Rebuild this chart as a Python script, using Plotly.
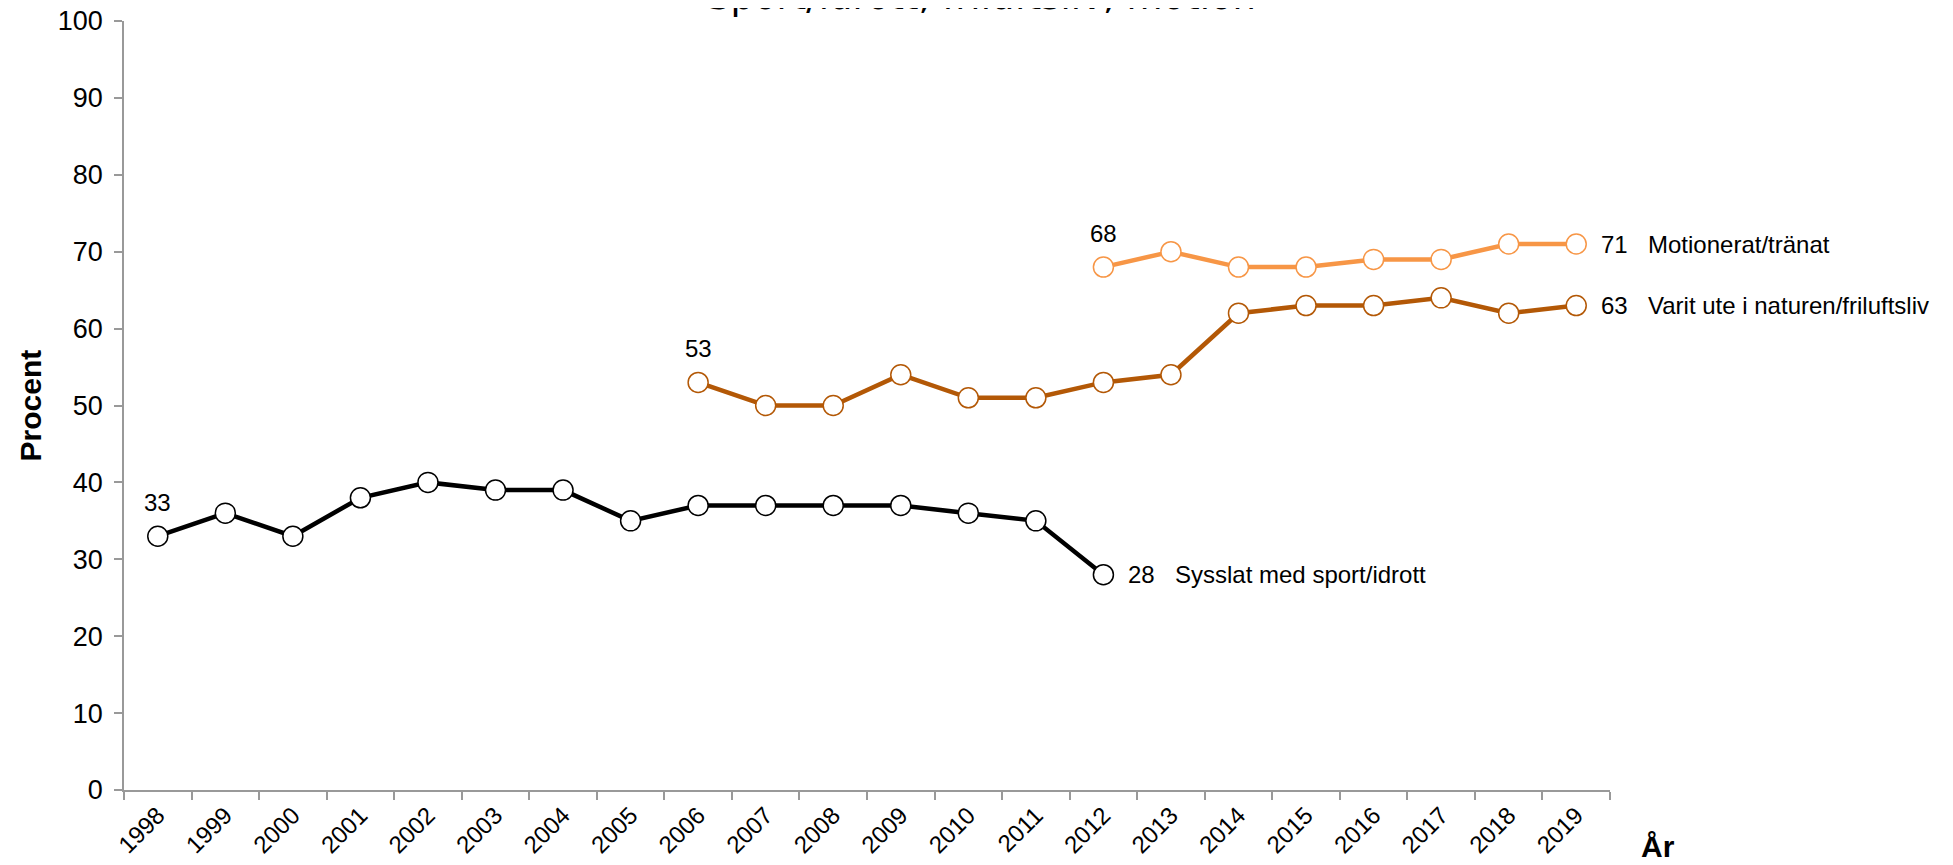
import plotly.graph_objects as go

years = [str(y) for y in range(1998, 2020)]

sport_years = [str(y) for y in range(1998, 2013)]
sport_values = [33, 36, 33, 38, 40, 39, 39, 35, 37, 37, 37, 37, 36, 35, 28]

natur_years = [str(y) for y in range(2006, 2020)]
natur_values = [53, 50, 50, 54, 51, 51, 53, 54, 62, 63, 63, 64, 62, 63]

motion_years = [str(y) for y in range(2012, 2020)]
motion_values = [68, 70, 68, 68, 69, 69, 71, 71]

series = [
    ("Sysslat med sport/idrott", sport_years, sport_values, "#000000"),
    ("Varit ute i naturen/friluftsliv", natur_years, natur_values, "#B35806"),
    ("Motionerat/tränat", motion_years, motion_values, "#F79646"),
]

FONT = "Liberation Sans, Arial, sans-serif"

fig = go.Figure()
annotations = []
for name, xs, ys, color in series:
    fig.add_trace(go.Scatter(
        x=xs, y=ys, mode="lines+markers", name=name,
        line=dict(color=color, width=4.5),
        marker=dict(size=20, color="white", line=dict(color=color, width=1.5)),
        showlegend=False, cliponaxis=False,
    ))
    i0 = years.index(xs[0])
    i1 = years.index(xs[-1])
    # first value label above the first point
    annotations.append(dict(
        x=i0, y=ys[0], xref="x", yref="y", text=str(ys[0]),
        showarrow=False, yshift=34, xanchor="center", yanchor="middle",
        font=dict(family=FONT, size=24, color="#000000"),
    ))
    # last value and series name to the right
    annotations.append(dict(
        x=i1, y=ys[-1], xref="x", yref="y", text=str(ys[-1]),
        showarrow=False, xshift=23, xanchor="left", yanchor="middle",
        font=dict(family=FONT, size=24, color="#000000"),
    ))
    annotations.append(dict(
        x=i1, y=ys[-1], xref="x", yref="y", text=name,
        showarrow=False, xshift=70, xanchor="left", yanchor="middle",
        font=dict(family=FONT, size=24, color="#000000"),
    ))

# chart title (sits mostly above the top edge, as in the original)
annotations.append(dict(
    x=0.577, y=1, xref="paper", yref="paper", text="Sport/idrott, friluftsliv, motion",
    showarrow=False, xanchor="center", yanchor="bottom", yshift=1,
    font=dict(family="DejaVu Sans, sans-serif", size=37, color="#000000"),
))

# x axis title
annotations.append(dict(
    x=1.032, y=-0.073, xref="paper", yref="paper", text="<b>År</b>",
    showarrow=False, xanchor="center", yanchor="middle",
    font=dict(family=FONT, size=30, color="#000000"),
))

# y axis title
annotations.append(dict(
    x=-0.0626, y=0.5, xref="paper", yref="paper", text="<b>Procent</b>",
    showarrow=False, xanchor="center", yanchor="middle", textangle=-90,
    font=dict(family=FONT, size=30, color="#000000"),
))

fig.update_layout(
    width=1937, height=849,
    margin=dict(l=116, r=335, t=13, b=67, autoexpand=False),
    paper_bgcolor="white", plot_bgcolor="white",
    annotations=annotations,
    xaxis=dict(
        type="category", categoryorder="array", categoryarray=years,
        range=[-0.5, len(years) - 0.5],
        tickson="boundaries", ticks="outside", ticklen=8, tickwidth=1.5, tickcolor="#999999",
        showline=True, linecolor="#999999", linewidth=1.5,
        showgrid=False, zeroline=False, tickangle=-45,
        tickfont=dict(family=FONT, size=24, color="#000000"),
        ticklabeloverflow="allow",
        automargin=False,
    ),
    yaxis=dict(
        range=[0, 100], tickmode="linear", tick0=0, dtick=10,
        ticks="outside", ticklen=8, tickwidth=1.5, tickcolor="#999999",
        showline=True, linecolor="#999999", linewidth=1.5,
        showgrid=False, zeroline=False, ticklabelstandoff=6,
        tickfont=dict(family=FONT, size=27, color="#000000"),
        ticklabeloverflow="allow",
        automargin=False,
    ),
)

fig.write_html("out.html")
